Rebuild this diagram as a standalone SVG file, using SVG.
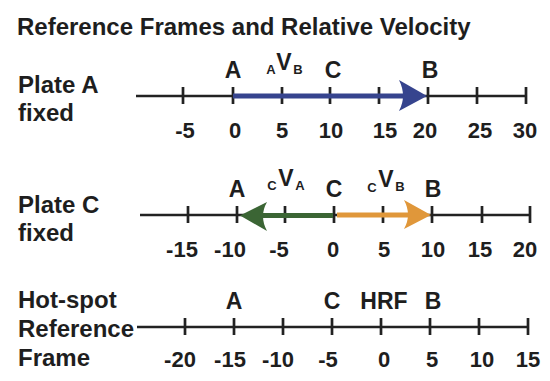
<svg xmlns="http://www.w3.org/2000/svg" width="550" height="381" viewBox="0 0 550 381">
<style>
text{font-family:"Liberation Sans",Arial,Helvetica,sans-serif;font-weight:bold;fill:#1e1e1e}
.t{font-size:24px}
.lbl{font-size:23px;text-anchor:middle}
.num{font-size:22px;text-anchor:middle}
.sub{font-size:13px;text-anchor:middle}
.axis{stroke:#222;stroke-width:2.7;fill:none}
</style>
<rect width="550" height="381" fill="#fff"/>
<text x="17" y="35" style="font-size:24px">Reference Frames and Relative Velocity</text>

<g id="row-plate-a">
<text class="t" x="18" y="93">Plate A</text>
<text class="t" x="18" y="121">fixed</text>
<path class="axis" d="M136,96H526M183,87v17M233,87v17M282,87v17M330,87v17M379,87v17M428,87v17M477,87v17M526,87v17"/>
<text class="lbl" x="233" y="78">A</text>
<text class="lbl" x="333" y="78">C</text>
<text class="lbl" x="430" y="78">B</text>
<text class="sub" x="271" y="74">A</text>
<text class="lbl" x="284" y="70">V</text>
<text class="sub" x="298" y="74">B</text>
<text class="num" x="185" y="138">-5</text>
<text class="num" x="235" y="138">0</text>
<text class="num" x="282" y="138">5</text>
<text class="num" x="331" y="138">10</text>
<text class="num" x="385" y="138">15</text>
<text class="num" x="425" y="138">20</text>
<text class="num" x="480" y="138">25</text>
<text class="num" x="525" y="138">30</text>
</g>

<g id="row-plate-c">
<text class="t" x="18" y="213">Plate C</text>
<text class="t" x="18" y="241">fixed</text>
<path class="axis" d="M140,215H530M188,206v17M237,206v17M285,206v17M334,206v17M383,206v17M432,206v17M482,206v17M530,206v17"/>
<text class="lbl" x="237" y="197">A</text>
<text class="lbl" x="334" y="197">C</text>
<text class="lbl" x="433" y="197">B</text>
<text class="sub" x="272" y="190">C</text>
<text class="lbl" x="286" y="186">V</text>
<text class="sub" x="300" y="190">A</text>
<text class="sub" x="372" y="192">C</text>
<text class="lbl" x="386" y="187">V</text>
<text class="sub" x="400" y="191">B</text>
<text class="num" x="182" y="257">-15</text>
<text class="num" x="230" y="257">-10</text>
<text class="num" x="279" y="257">-5</text>
<text class="num" x="333" y="257">0</text>
<text class="num" x="384" y="257">5</text>
<text class="num" x="433" y="257">10</text>
<text class="num" x="480" y="257">15</text>
<text class="num" x="525" y="257">20</text>
</g>

<g id="row-hotspot">
<text class="t" x="18" y="308">Hot-spot</text>
<text class="t" x="18" y="337">Reference</text>
<text class="t" x="18" y="366">Frame</text>
<path class="axis" d="M137,327H528M185,318v17M234,318v17M283,318v17M332,318v17M381,318v17M430,318v17M479,318v17M528,318v17"/>
<text class="lbl" x="234" y="309">A</text>
<text class="lbl" x="332" y="309">C</text>
<text class="lbl" x="384" y="309">HRF</text>
<text class="lbl" x="433" y="309">B</text>
<text class="num" x="180" y="367">-20</text>
<text class="num" x="230" y="367">-15</text>
<text class="num" x="278" y="367">-10</text>
<text class="num" x="328" y="367">-5</text>
<text class="num" x="384" y="367">0</text>
<text class="num" x="432" y="367">5</text>
<text class="num" x="482" y="367">10</text>
<text class="num" x="528" y="367">15</text>
</g>

<g id="connectors">
<g id="arrow-AVB">
<path d="M233,96H405" stroke="#36448e" stroke-width="5" fill="none"/>
<path d="M427,96L399,80Q407,96 399,111Z" fill="#36448e"/>
</g>
<g id="arrow-CVA">
<path d="M333,215.5H262" stroke="#3b6534" stroke-width="5" fill="none"/>
<path d="M240,215.5L267,202Q259,216 267,231Z" fill="#3b6534"/>
</g>
<g id="arrow-CVB">
<path d="M337,215H409" stroke="#e0973a" stroke-width="5" fill="none"/>
<path d="M431,215L404,200Q412,215 404,229Z" fill="#e0973a"/>
</g>
</g>
</svg>
